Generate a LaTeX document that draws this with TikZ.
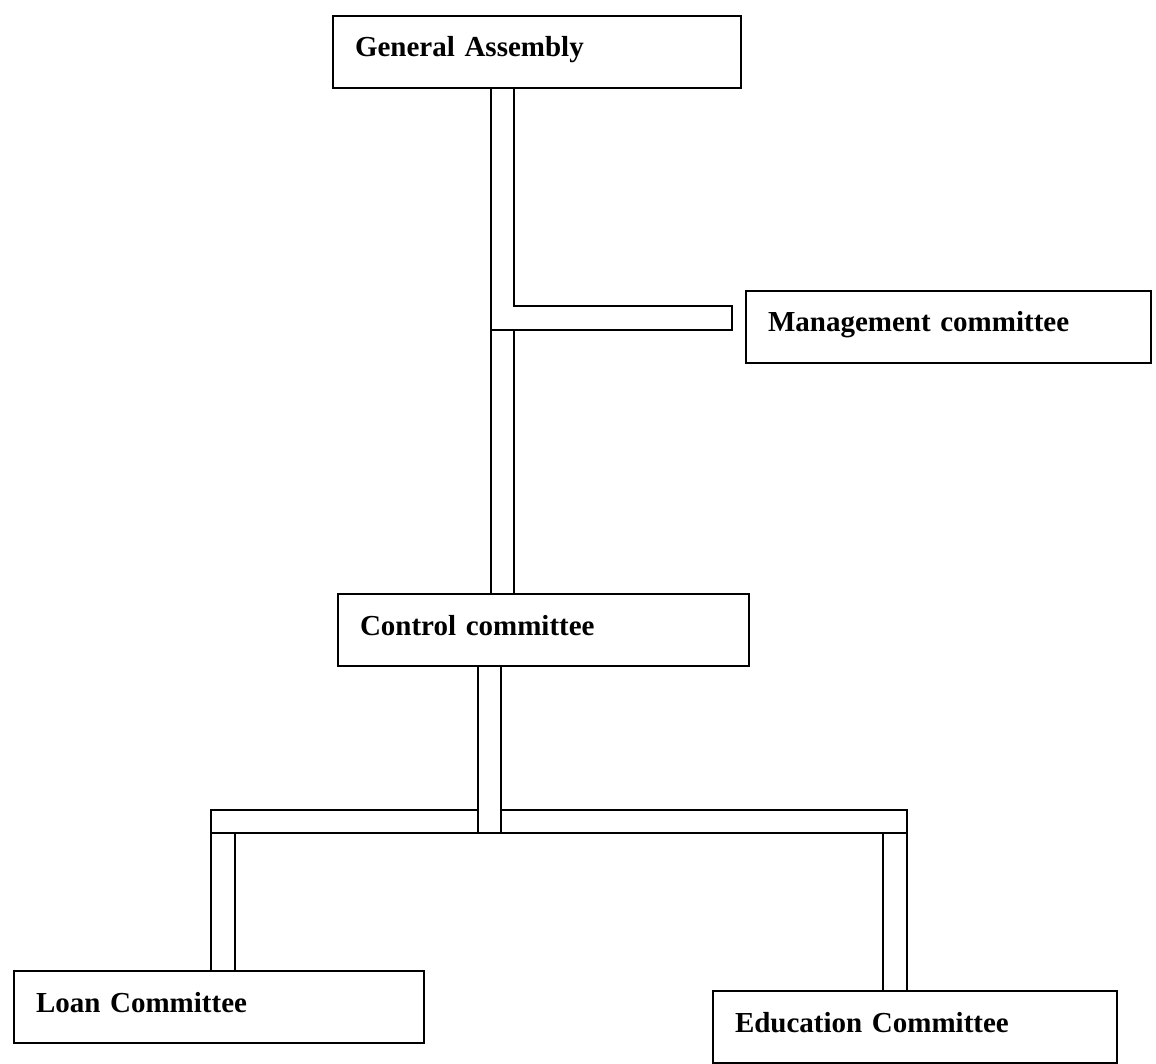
\documentclass[tikz,border=0pt]{standalone}
\usepackage{fontspec}
\setmainfont{Liberation Serif}
\begin{document}
\begin{tikzpicture}[x=1pt,y=1pt,
  orgbox/.style={draw, line width=2pt, anchor=north west, inner xsep=22pt, inner ysep=0pt,
    text height=41pt, text depth=31pt, align=left,
    font=\fontsize{29}{34}\selectfont\bfseries},
  bar/.style={draw, line width=2pt, line join=miter}]
\useasboundingbox (0,0) rectangle (1156,-1064);
% boxes
\node[orgbox, text width=364pt] (ga)   at (332,-15)  {General Assembly};
\node[orgbox, text width=361pt] (mgmt) at (745,-290) {Management committee};
\node[orgbox, text width=367pt] (ctrl) at (337,-593) {Control committee};
\node[orgbox, text width=366pt] (loan) at (13,-970)  {Loan Committee};
\node[orgbox, text width=360pt] (edu)  at (712,-990) {Education Committee};
% reference coordinates for the hollow bars
\coordinate (ta) at (491,-306);  % upper trunk left line / bar top
\coordinate (tb) at (514,-330);  % upper trunk right line / bar bottom
\coordinate (me) at (732,0);     % free end of management bar
\coordinate (la) at (478,-810);  % lower trunk left line / bottom bar top
\coordinate (lb) at (501,-833);  % lower trunk right line / bottom bar bottom
\coordinate (lo) at (211,0);     % loan branch outer
\coordinate (li) at (235,0);     % loan branch inner
\coordinate (ei) at (883,0);     % education branch inner
\coordinate (eo) at (907,0);     % education branch outer
% upper trunk with branch toward Management committee
\draw[bar] (ta |- ga.south) -- (ta |- ctrl.north);
\draw[bar] (tb |- ga.south) -- (tb |- ta) -- (me |- ta) -- (me |- tb) -- (ta |- tb);
\draw[bar] (tb |- tb) -- (tb |- ctrl.north);
% lower trunk
\draw[bar] (la |- ctrl.south) -- (la |- lb);
\draw[bar] (lb |- ctrl.south) -- (lb |- lb);
% bottom bar and branches
\draw[bar] (lo |- loan.north) -- (lo |- la) -- (la);
\draw[bar] (lb |- la) -- (eo |- la) -- (eo |- edu.north);
\draw[bar] (lo |- lb) -- (eo |- lb);
\draw[bar] (li |- lb) -- (li |- loan.north);
\draw[bar] (ei |- lb) -- (ei |- edu.north);
\end{tikzpicture}
\end{document}
